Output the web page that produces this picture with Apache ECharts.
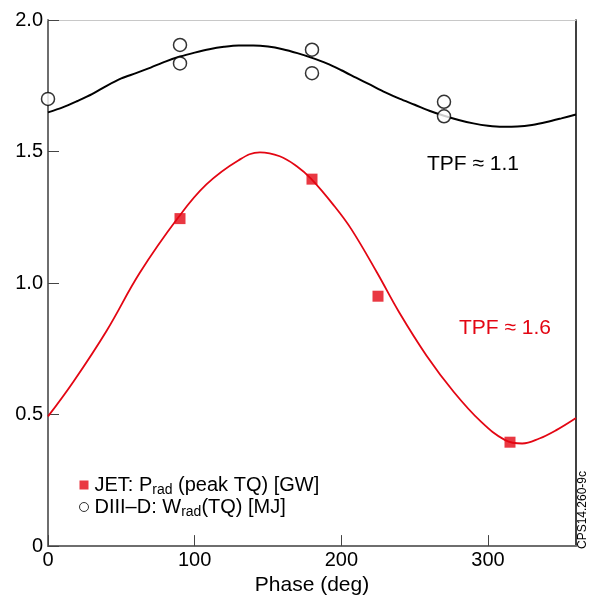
<!DOCTYPE html>
<html>
<head>
<meta charset="utf-8">
<title>TPF vs phase</title>
<script src="https://cdn.jsdelivr.net/npm/echarts@6/dist/echarts.min.js"></script>
<style>
  html, body { margin: 0; padding: 0; background: #fff; }
  #chart { width: 596px; height: 601px; }
</style>
</head>
<body>
<div id="chart"></div>
<script>
// 测量点
const jetPhase = [90, 180, 225, 315]
const jetPrad = [1.245, 1.395, 0.95, 0.395]
const diiidPhase = [0, 90, 90, 180, 180, 270, 270]
const diiidWrad = [1.70, 1.905, 1.835, 1.887, 1.798, 1.689, 1.634]

// 拟合曲线（从图上读的点）
const fitDiiidPhase = [0, 10, 20, 30, 40, 50, 60, 70, 80, 90, 100, 110, 120, 130, 140, 150, 160, 170, 180,
  190, 200, 210, 220, 230, 240, 250, 260, 270, 280, 290, 300, 310, 320, 330, 340, 350, 360]
const fitDiiid = [1.649, 1.668, 1.692, 1.718, 1.750, 1.778, 1.798, 1.819, 1.842, 1.861, 1.876, 1.889, 1.898, 1.903, 1.903, 1.899, 1.889, 1.874, 1.856,
  1.835, 1.809, 1.781, 1.753, 1.725, 1.700, 1.678, 1.655, 1.636, 1.620, 1.607, 1.598, 1.594, 1.595, 1.601, 1.612, 1.626, 1.641]
const fitJetPhase = [0, 17.3, 40, 62.7, 88.9, 108, 130, 144.5, 158, 169.6, 179.3, 195.2, 206.8,
  224.3, 239.4, 258, 276.7, 295.4, 311.7, 323.3, 335, 346.6, 360]
const fitJet = [0.493, 0.625, 0.819, 1.04, 1.25, 1.375, 1.467, 1.497, 1.482, 1.444, 1.397, 1.293, 1.205,
  1.040, 0.889, 0.725, 0.586, 0.472, 0.403, 0.390, 0.409, 0.441, 0.487]

// 坐标轴刻度
const xTicks = [0, 100, 200, 300]
const yTicks = [0, 0.5, 1.0, 1.5, 2.0]
const yTickLabels = ['0', '0.5', '1.0', '1.5', '2.0']

const font = '"Liberation Sans", Arial, sans-serif'
const red = '#e30613'

let pairs = (xs, ys) => xs.map((x, i) => [x, ys[i]])

let myChart = echarts.init(document.getElementById('chart'))
myChart.setOption({
  animation: false,
  textStyle: { fontFamily: font },
  grid: { left: 48, right: 20, top: 20, bottom: 53 },
  legend: {
    orient: 'vertical',
    left: 74,
    top: 470,
    itemGap: 0,
    itemWidth: 9,
    itemHeight: 9,
    selectedMode: false,
    data: [
      { name: 'JET', icon: 'rect' },
      { name: 'DIII-D', icon: 'circle', itemStyle: { color: '#fff', borderColor: '#000', borderWidth: 1 } }
    ],
    formatter: function (name) {
      if (name === 'JET') return '{a|JET: P}{b|rad}{a| (peak TQ) [GW]}'
      return '{a|DIII\u2013D: W}{b|rad}{a|(TQ) [MJ]}'
    },
    textStyle: {
      padding: [0, 0, 0, 1],
      rich: {
        a: { fontFamily: font, fontSize: 20, lineHeight: 24, color: '#000' },
        b: { fontFamily: font, fontSize: 14, lineHeight: 14, color: '#000', verticalAlign: 'bottom' }
      }
    }
  },
  xAxis: [{
    type: 'value',
    min: 0,
    max: 360,
    interval: 100,
    name: 'Phase (deg)',
    nameLocation: 'middle',
    nameGap: 26,
    nameTextStyle: { fontSize: 21, color: '#000', fontFamily: font },
    splitLine: { show: false },
    axisLine: { onZero: false, lineStyle: { color: '#6e6e6e', width: 2 } },
    axisTick: { inside: true, length: 11, customValues: xTicks, lineStyle: { color: '#444', width: 1 } },
    axisLabel: { margin: 4, fontSize: 20, color: '#000', customValues: xTicks }
  }, {
    type: 'value',
    position: 'top',
    min: 0,
    max: 360,
    axisLine: { show: true, onZero: false, lineStyle: { color: '#c8c8c8', width: 1 } },
    axisTick: { show: false },
    axisLabel: { show: false },
    splitLine: { show: false }
  }],
  yAxis: [{
    type: 'value',
    min: 0,
    max: 2,
    interval: 0.5,
    splitLine: { show: false },
    axisLine: { show: true, onZero: false, lineStyle: { color: '#6e6e6e', width: 2 } },
    axisTick: { show: true, inside: true, length: 11, customValues: yTicks, lineStyle: { color: '#444', width: 1 } },
    axisLabel: {
      margin: 5,
      fontSize: 20,
      color: '#000',
      customValues: yTicks,
      formatter: v => yTickLabels[yTicks.indexOf(v)]
    }
  }, {
    type: 'value',
    position: 'right',
    min: 0,
    max: 2,
    axisLine: { show: true, onZero: false, lineStyle: { color: '#000', width: 1.5 } },
    axisTick: { show: false },
    axisLabel: { show: false },
    splitLine: { show: false }
  }],
  graphic: [
    { type: 'text', x: 427, y: 164, style: { text: 'TPF \u2248 1.1', fontSize: 21, fontFamily: font, fill: '#000', verticalAlign: 'middle' } },
    { type: 'text', x: 459, y: 328, style: { text: 'TPF \u2248 1.6', fontSize: 21, fontFamily: font, fill: red, verticalAlign: 'middle' } },
    { type: 'text', x: 583, y: 510, rotation: Math.PI / 2, style: { text: 'CPS14.260-9c', fontSize: 12, fontFamily: font, fill: '#000', align: 'center', verticalAlign: 'middle' } }
  ],
  series: [
    {
      name: 'DIII-D fit',
      type: 'line',
      smooth: 0.3,
      showSymbol: false,
      lineStyle: { color: '#000', width: 2 },
      data: pairs(fitDiiidPhase, fitDiiid),
      z: 2
    },
    {
      name: 'JET fit',
      type: 'line',
      smooth: 0.4,
      showSymbol: false,
      lineStyle: { color: red, width: 1.8 },
      data: pairs(fitJetPhase, fitJet),
      z: 2
    },
    {
      name: 'DIII-D',
      type: 'scatter',
      symbol: 'circle',
      symbolSize: 13,
      itemStyle: { color: '#fff', borderColor: '#000', borderWidth: 1.5 },
      data: pairs(diiidPhase, diiidWrad),
      z: 3
    },
    {
      name: 'JET',
      type: 'scatter',
      symbol: 'rect',
      symbolSize: 11,
      itemStyle: { color: red },
      data: pairs(jetPhase, jetPrad),
      z: 3
    }
  ]
})
window.addEventListener('resize', function () {
  myChart.resize()
})
</script>
</body>
</html>
